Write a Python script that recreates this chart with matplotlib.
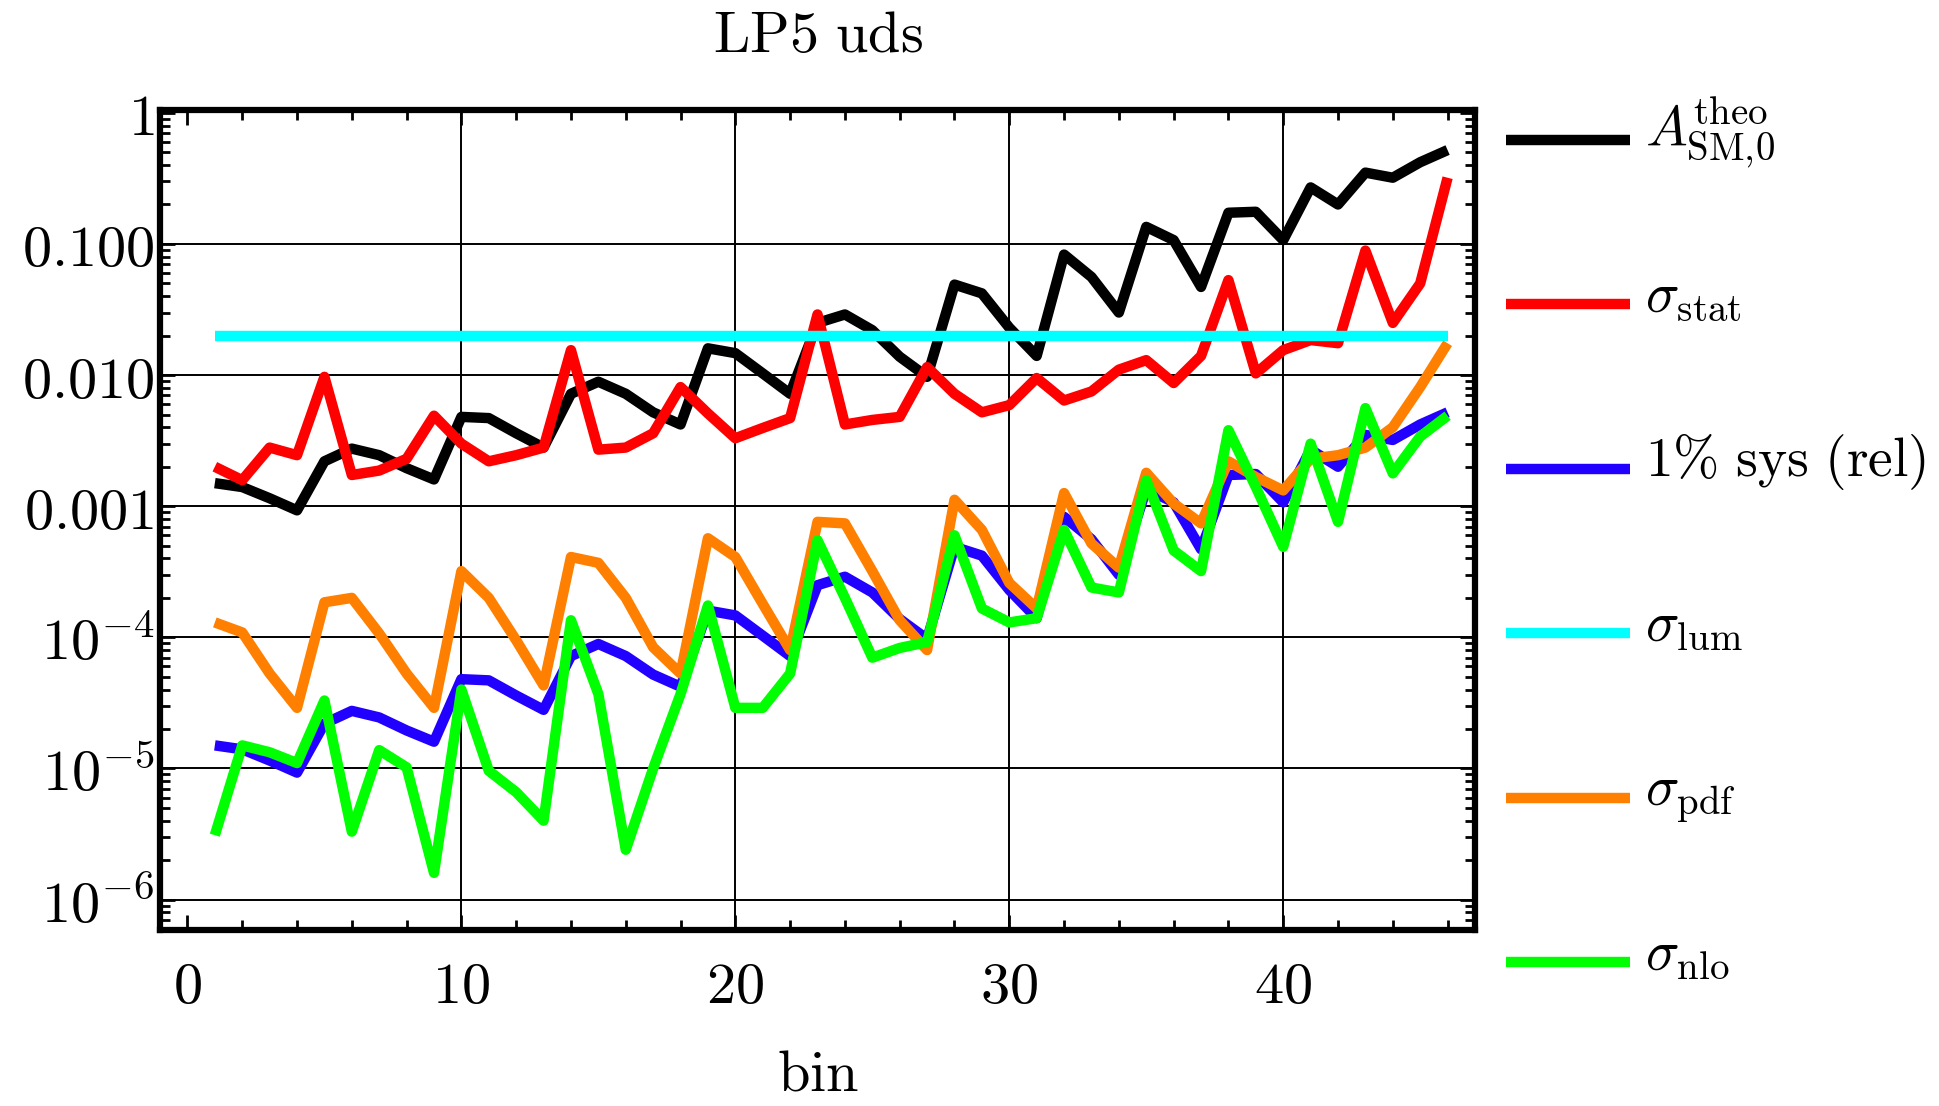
import numpy as np
import matplotlib
matplotlib.use("Agg")
import matplotlib.pyplot as plt
from matplotlib.ticker import FixedLocator, FixedFormatter, LogLocator, NullFormatter, MultipleLocator

plt.rcParams['mathtext.fontset'] = 'cm'

# bin index and the six curves (per bin)
bins = np.arange(1, 47)

a_theo = [1.5e-3, 1.4e-3, 1.15e-3, 9.3e-4, 2.2e-3, 2.75e-3, 2.45e-3, 1.95e-3, 1.6e-3, 4.8e-3,
          4.7e-3, 3.6e-3, 2.8e-3, 7.2e-3, 8.9e-3, 7.2e-3, 5.2e-3, 4.2e-3, 1.6e-2, 1.47e-2,
          1.03e-2, 7.2e-3, 2.5e-2, 2.9e-2, 2.2e-2, 1.38e-2, 9.7e-3, 4.9e-2, 4.2e-2, 2.3e-2,
          1.4e-2, 8.3e-2, 5.6e-2, 3.0e-2, 0.135, 0.107, 4.7e-2, 0.173, 0.176, 0.107,
          0.27, 0.20, 0.35, 0.32, 0.42, 0.52]

sig_stat = [2.0e-3, 1.58e-3, 2.8e-3, 2.45e-3, 9.7e-3, 1.73e-3, 1.87e-3, 2.3e-3, 4.9e-3, 3.0e-3,
            2.2e-3, 2.45e-3, 2.8e-3, 1.55e-2, 2.7e-3, 2.8e-3, 3.6e-3, 8.1e-3, 5.1e-3, 3.3e-3,
            3.95e-3, 4.7e-3, 2.9e-2, 4.2e-3, 4.55e-3, 4.8e-3, 1.15e-2, 7.2e-3, 5.2e-3, 5.9e-3,
            9.5e-3, 6.4e-3, 7.5e-3, 1.1e-2, 1.3e-2, 8.7e-3, 1.4e-2, 5.3e-2, 1.03e-2, 1.55e-2,
            1.85e-2, 1.75e-2, 8.9e-2, 2.5e-2, 5.0e-2, 0.32]

sys_rel = [1.5e-5, 1.4e-5, 1.15e-5, 9.3e-6, 2.2e-5, 2.75e-5, 2.45e-5, 1.95e-5, 1.6e-5, 4.8e-5,
           4.7e-5, 3.6e-5, 2.8e-5, 7.2e-5, 8.9e-5, 7.2e-5, 5.2e-5, 4.2e-5, 1.6e-4, 1.47e-4,
           1.03e-4, 7.2e-5, 2.5e-4, 2.9e-4, 2.2e-4, 1.38e-4, 9.7e-5, 4.9e-4, 4.2e-4, 2.3e-4,
           1.4e-4, 8.3e-4, 5.6e-4, 3.0e-4, 1.35e-3, 1.07e-3, 4.7e-4, 1.73e-3, 1.76e-3, 1.07e-3,
           2.7e-3, 2.0e-3, 3.5e-3, 3.2e-3, 4.2e-3, 5.2e-3]

sig_lum = [0.02] * 46

sig_pdf = [1.3e-4, 1.09e-4, 5.3e-5, 2.9e-5, 1.85e-4, 2.0e-4, 1.07e-4, 5.3e-5, 2.9e-5, 3.2e-4,
           2.0e-4, 9.5e-5, 4.3e-5, 4.1e-4, 3.7e-4, 2.0e-4, 8.4e-5, 5.3e-5, 5.7e-4, 4.1e-4,
           1.8e-4, 8.0e-5, 7.6e-4, 7.4e-4, 3.2e-4, 1.35e-4, 8.0e-5, 1.12e-3, 6.6e-4, 2.6e-4,
           1.66e-4, 1.26e-3, 5.2e-4, 3.4e-4, 1.8e-3, 1.05e-3, 7.4e-4, 2.2e-3, 1.67e-3, 1.32e-3,
           2.3e-3, 2.45e-3, 2.8e-3, 4.0e-3, 8.1e-3, 1.75e-2]

sig_nlo = [3.1e-6, 1.5e-5, 1.33e-5, 1.1e-5, 3.3e-5, 3.3e-6, 1.38e-5, 1.02e-5, 1.6e-6, 4.0e-5,
           9.6e-6, 6.6e-6, 4.0e-6, 1.35e-4, 3.7e-5, 2.4e-6, 1.0e-5, 3.7e-5, 1.75e-4, 2.9e-5,
           2.9e-5, 5.3e-5, 5.5e-4, 2.0e-4, 7.0e-5, 8.3e-5, 9.2e-5, 6.0e-4, 1.66e-4, 1.3e-4,
           1.4e-4, 6.6e-4, 2.4e-4, 2.2e-4, 1.58e-3, 4.6e-4, 3.2e-4, 3.8e-3, 1.4e-3, 4.9e-4,
           3.0e-3, 7.6e-4, 5.6e-3, 1.78e-3, 3.4e-3, 4.9e-3]

labels = [r'$A_{\mathrm{SM},\!0}^{\mathrm{theo}}$',
          r'$\sigma_{\mathrm{stat}}$',
          r'$\mathrm{1\%\ sys\ (rel)}$',
          r'$\sigma_{\mathrm{lum}}$',
          r'$\sigma_{\mathrm{pdf}}$',
          r'$\sigma_{\mathrm{nlo}}$']
colors = ['black', '#ff0000', '#2200ff', '#00ffff', '#ff8000', '#00ff00']
curves = [a_theo, sig_stat, sys_rel, sig_lum, sig_pdf, sig_nlo]

y_ticks = [1e-6, 1e-5, 1e-4, 1e-3, 1e-2, 1e-1, 1]
y_ticklabels = [r'$10^{-6}$', r'$10^{-5}$', r'$10^{-4}$', r'$\mathrm{0.001}$',
                r'$\mathrm{0.010}$', r'$\mathrm{0.100}$', r'$\mathrm{1}$']
x_ticks = [0, 10, 20, 30, 40]

fs = 42
fs_leg = 40
lw = 7.5

fig = plt.figure(figsize=(19.4, 11.06), dpi=100)
ax = fig.add_axes([0.0825, 0.159, 0.6778, 0.7415])

ax.set_yscale('log')
ax.set_xlim(-1, 47)
ax.set_ylim(5.85e-7, 1.05)

# grid lines at the labelled ticks (none at bin 0)
for gx in x_ticks[1:]:
    ax.axvline(gx, color='black', lw=1.4, zorder=1)
for gy in y_ticks[:-1]:
    ax.axhline(gy, color='black', lw=1.4, zorder=1)

for vals, c in zip(curves, colors):
    ax.plot(bins, vals, color=c, lw=lw, solid_joinstyle='round',
            solid_capstyle='butt', zorder=2)

ax.xaxis.set_major_locator(FixedLocator(x_ticks))
ax.xaxis.set_major_formatter(FixedFormatter([r'$%d$' % t for t in x_ticks]))
ax.xaxis.set_minor_locator(MultipleLocator(2))
ax.yaxis.set_major_locator(FixedLocator(y_ticks))
ax.yaxis.set_major_formatter(FixedFormatter(y_ticklabels))
ax.yaxis.set_minor_locator(LogLocator(base=10, subs=np.arange(2, 10), numticks=20))
ax.yaxis.set_minor_formatter(NullFormatter())

ax.tick_params(which='both', direction='in', top=True, right=True, width=2, labelsize=fs)
ax.tick_params(which='major', length=11)
ax.tick_params(which='minor', length=7)
ax.tick_params(axis='x', pad=20)
ax.tick_params(axis='y', pad=4)
for s in ax.spines.values():
    s.set_linewidth(4.5)

ax.set_title(r'$\mathrm{LP5\ uds}$', fontsize=fs, pad=42)
ax.set_xlabel(r'$\mathrm{bin}$', fontsize=fs, labelpad=22)

# legend column on the right, evenly spaced rows
lax = fig.add_axes([0.7763, 0.0554, 0.2237, 0.8924])
lax.set_xlim(0, 434)
lax.set_ylim(5.5, -0.5)
lax.axis('off')
for i, (lab, c) in enumerate(zip(labels, colors)):
    lax.plot([0, 124], [i, i], color=c, lw=lw, solid_capstyle='butt')
    lax.text(139, i + 0.043, lab, fontsize=fs_leg, va='baseline', ha='left')

fig.savefig('out.png', dpi=100)
